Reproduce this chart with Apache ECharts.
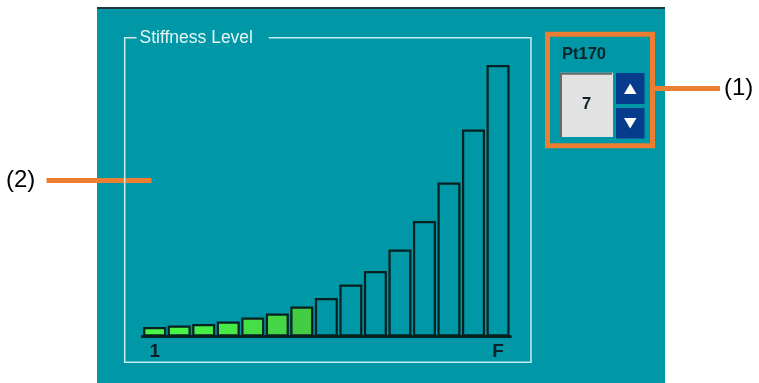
<!DOCTYPE html>
<html>
<head>
<meta charset="utf-8">
<script src="https://cdn.jsdelivr.net/npm/echarts@6/dist/echarts.min.js"></script>
<style>
html,body{margin:0;padding:0;background:#fff;}
#chart{width:759px;height:383px;}
</style>
</head>
<body>
<div id="chart"></div>
<script>
// ---- data ----
const categories = ['1','2','3','4','5','6','7','8','9','10','11','12','13','14','F'];
const stiffness = [9.5, 11, 12.5, 15, 19, 23, 30, 38.5, 52, 65.5, 87, 115.5, 154, 207, 271.5];
const tickLabels = ['1', 'F'];
const currentLevel = 7;            // value shown in the Pt170 spin box
const panelTitle = 'Stiffness Level';
const boxTitle = 'Pt170';
const callouts = ['(1)', '(2)'];

// ---- styles ----
const greenShades = ['#48f848','#48f448','#47ee47','#47e847','#46de46','#45d645','#44cc44'];
const TEAL = '#0097a7';
const FRAME = '#cdeef0';
const ORANGE = '#ed7d31';
const DARK = '#0b2427';
const FONT = '"Liberation Sans", Arial, sans-serif';

const chart = echarts.init(document.getElementById('chart'));

const barData = stiffness.map((v, i) => ({
  value: v,
  itemStyle: { color: i < currentLevel ? greenShades[i] : 'rgba(0,0,0,0)' }
}));

chart.setOption({
  backgroundColor: '#ffffff',
  animation: false,
  grid: { left: 142.4, width: 367.9, top: 36.5, height: 300 },
  xAxis: {
    type: 'category',
    data: categories,
    axisLine: { lineStyle: { color: '#08201f', width: 3 } },
    axisTick: { show: false },
    axisLabel: {
      interval: 0,
      formatter: (v, i) => (i === 0 ? tickLabels[0] : (i === categories.length - 1 ? tickLabels[1] : '')),
      fontSize: 19, fontWeight: 'bold', color: DARK, fontFamily: FONT, margin: 6
    },
    splitLine: { show: false }
  },
  yAxis: { type: 'value', min: 0, max: 300, show: false, splitLine: { show: false } },
  series: [{
    type: 'bar',
    data: barData,
    barWidth: 23,
    itemStyle: { borderColor: '#08201f', borderWidth: 2.2 },
    z: 3
  }],
  graphic: [
    // panel
    { type: 'rect', z: -20, shape: { x: 97, y: 8, width: 568, height: 375 }, style: { fill: TEAL } },
    { type: 'line', z: -19, shape: { x1: 97, y1: 8, x2: 665, y2: 8 }, style: { stroke: '#1c3a40', lineWidth: 2 } },
    // callout (2)
    { type: 'line', z: -15, shape: { x1: 46.5, y1: 180.5, x2: 151.5, y2: 180.5 }, style: { stroke: ORANGE, lineWidth: 5 } },
    { type: 'text', z: -15, style: { text: callouts[1], x: 6, y: 180.5, fill: '#000', font: '24px ' + FONT, verticalAlign: 'middle' } },
    // frame
    { type: 'polyline', z: -14, shape: { points: [[268.7,37.7],[531,37.7],[531,362.3],[124.7,362.3],[124.7,37.7],[136.5,37.7]] }, style: { stroke: FRAME, lineWidth: 1.5, fill: null } },
    { type: 'text', z: -14, style: { text: panelTitle, x: 139.5, y: 38, fill: '#e6f6f7', font: '17.5px ' + FONT, verticalAlign: 'middle' } },
    // Pt170 box
    { type: 'rect', z: -10, shape: { x: 547.5, y: 34.2, width: 105, height: 111.6 }, style: { stroke: ORANGE, lineWidth: 5, fill: null } },
    { type: 'text', z: -10, style: { text: boxTitle, x: 562, y: 54.5, fill: DARK, font: 'bold 16.5px ' + FONT, verticalAlign: 'middle' } },
    { type: 'rect', z: -10, shape: { x: 560, y: 72.7, width: 53, height: 64.3 }, style: { fill: '#e2e2e2' } },
    { type: 'polyline', z: -9, shape: { points: [[561,137],[561,73.7],[612,73.7]] }, style: { stroke: '#6a6a6a', lineWidth: 2, fill: null } },
    { type: 'text', z: -9, style: { text: String(currentLevel), x: 586.5, y: 104, fill: DARK, font: 'bold 16.5px ' + FONT, align: 'center', verticalAlign: 'middle' } },
    { type: 'rect', z: -10, shape: { x: 616, y: 73, width: 28.5, height: 31 }, style: { fill: '#073c8c' } },
    { type: 'rect', z: -10, shape: { x: 616, y: 108, width: 28.5, height: 30.5 }, style: { fill: '#073c8c' } },
    { type: 'polygon', z: -9, shape: { points: [[630.2,83.5],[636.5,94],[624,94]] }, style: { fill: '#fff' } },
    { type: 'polygon', z: -9, shape: { points: [[624,118],[636.5,118],[630.2,128.5]] }, style: { fill: '#fff' } },
    // callout (1)
    { type: 'line', z: -10, shape: { x1: 655, y1: 88.5, x2: 720, y2: 88.5 }, style: { stroke: ORANGE, lineWidth: 5 } },
    { type: 'text', z: -10, style: { text: callouts[0], x: 724, y: 88.5, fill: '#000', font: '24px ' + FONT, verticalAlign: 'middle' } }
  ]
});
</script>
</body>
</html>
